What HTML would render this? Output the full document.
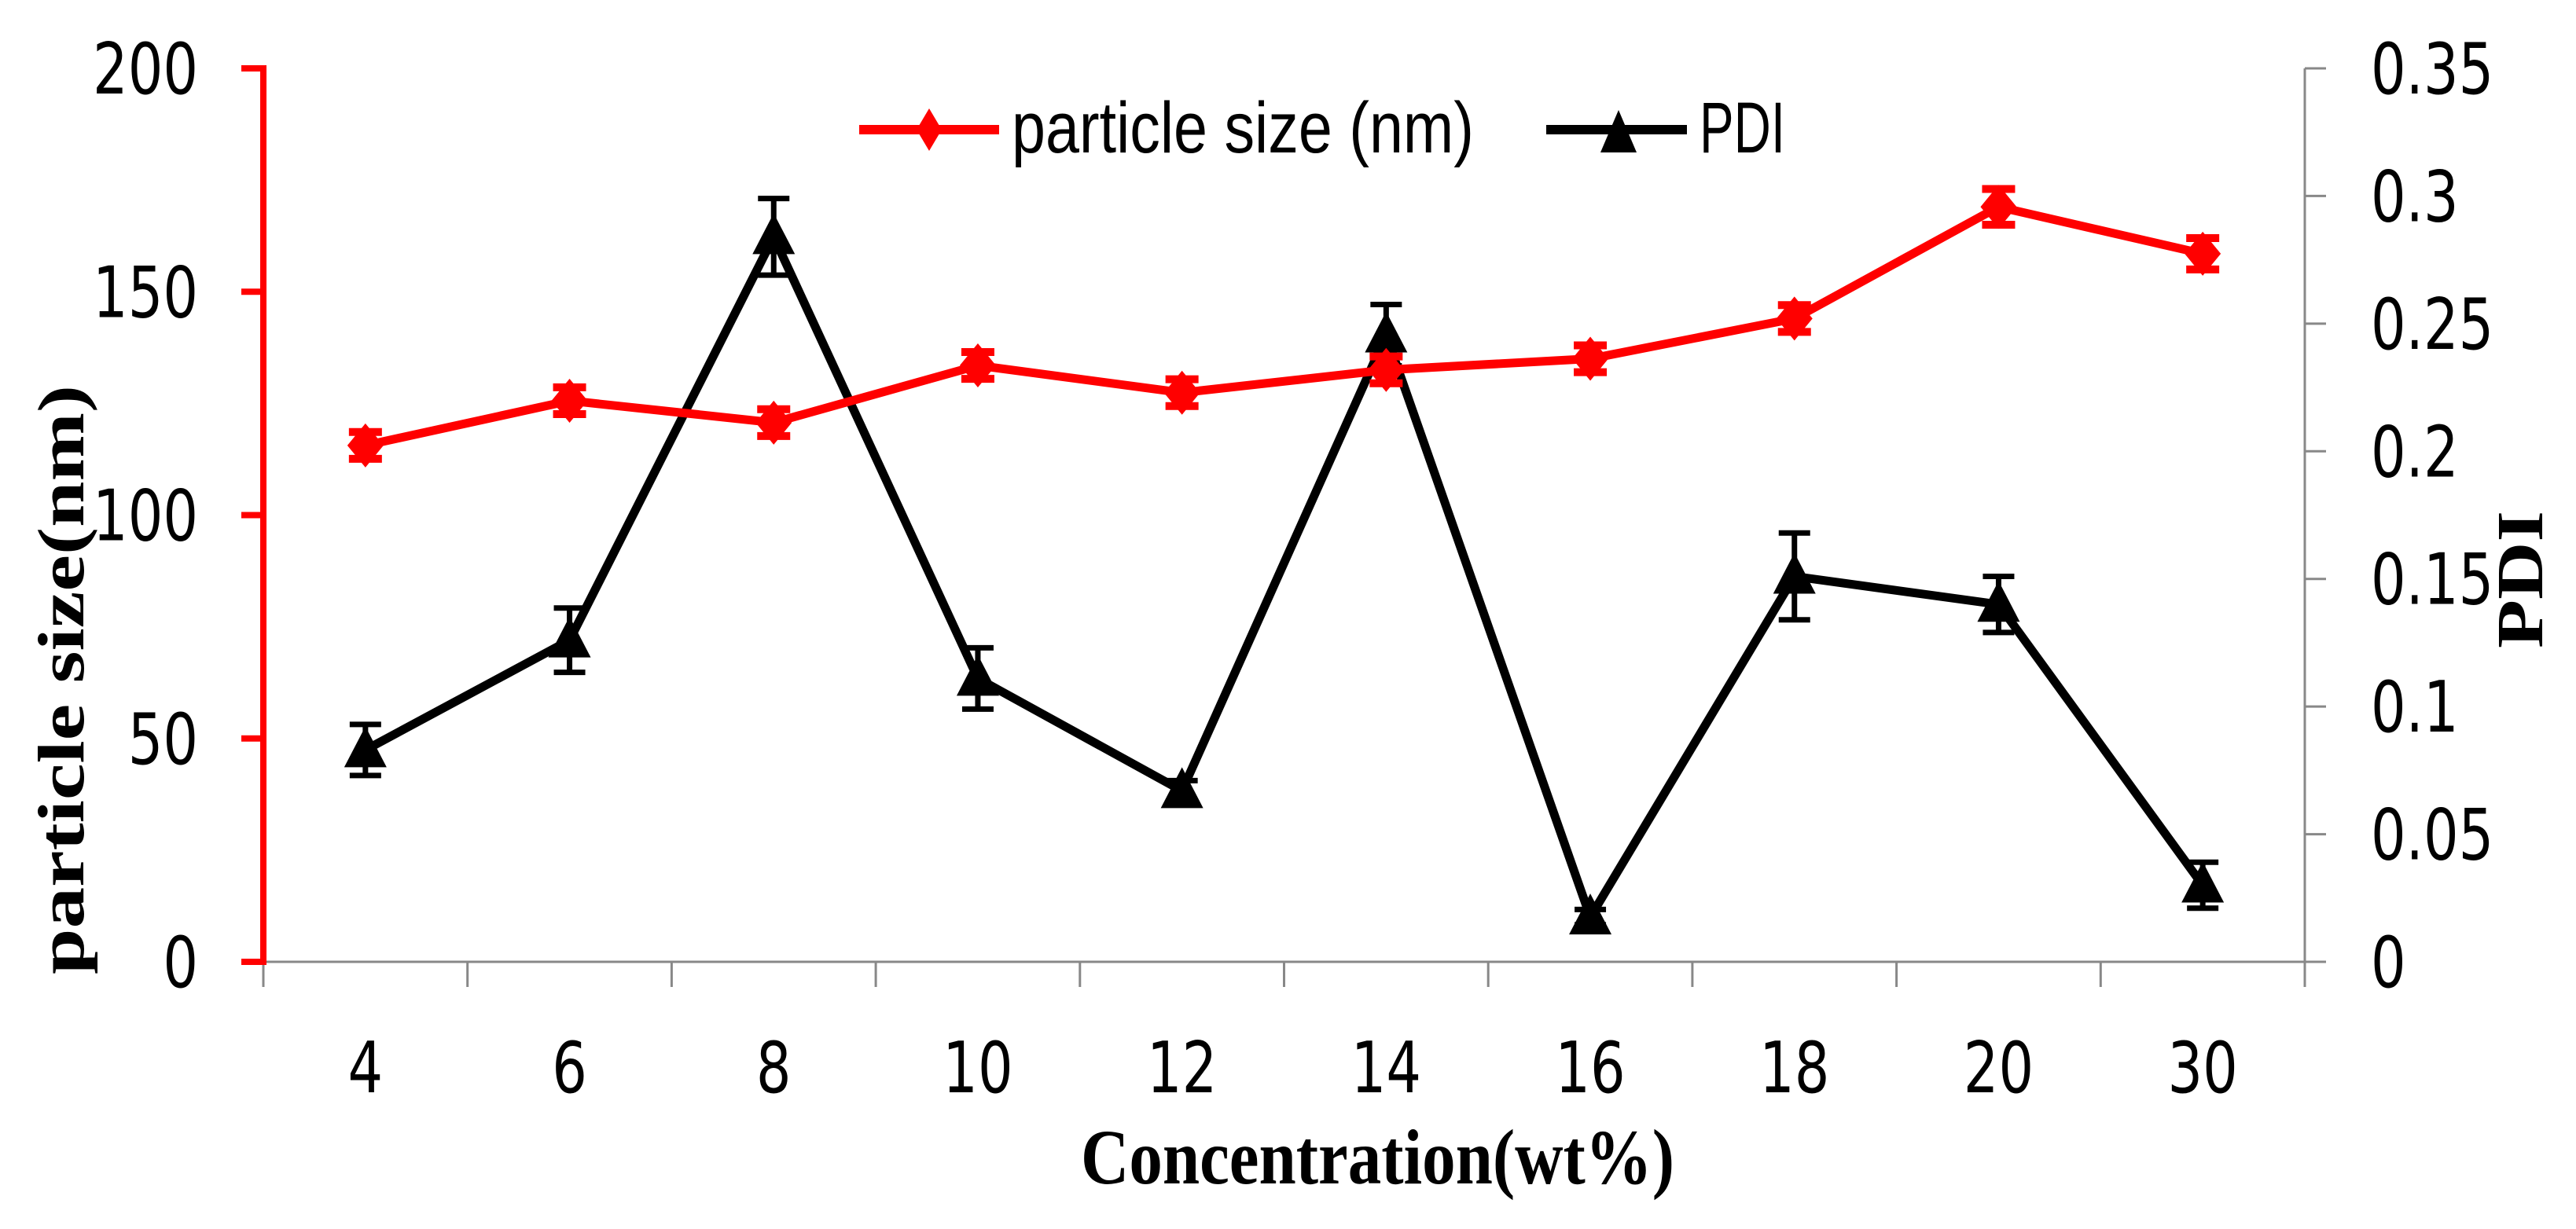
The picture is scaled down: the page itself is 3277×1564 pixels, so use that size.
<!DOCTYPE html>
<html><head><meta charset="utf-8"><style>
html,body{margin:0;padding:0;background:#fff;}
svg{display:block;}
</style></head><body>
<svg id="chart" width="3277" height="1564" viewBox="0 0 3277 1564" xmlns="http://www.w3.org/2000/svg">
<g id="axes"></g>
<g id="marks"></g>
<g id="legend">
  <line x1="1093" y1="165" x2="1271" y2="165" stroke="#ff0000" stroke-width="12"/>
  <polygon points="1182,138 1198,165 1182,192 1166,165" fill="#ff0000"/>
  <text x="1287" y="194" font-family="Liberation Sans, sans-serif" font-size="92" textLength="588" lengthAdjust="spacingAndGlyphs">particle size (nm)</text>
  <line x1="1967" y1="165" x2="2146" y2="165" stroke="#000" stroke-width="12"/>
  <polygon points="2059,140 2082,194 2036,194" fill="#000"/>
  <text x="2162" y="194" font-family="Liberation Sans, sans-serif" font-size="92" textLength="109" lengthAdjust="spacingAndGlyphs">PDI</text>
</g>
<text x="1375" y="1506" font-family="Liberation Serif, serif" font-weight="bold" font-size="100" textLength="755" lengthAdjust="spacingAndGlyphs">Concentration(wt%)</text>
<text transform="translate(106,1240) rotate(-90)" x="0" y="0" font-family="Liberation Serif, serif" font-weight="bold" font-size="84" textLength="750" lengthAdjust="spacingAndGlyphs">particle size(nm)</text>
<text transform="translate(3234,825) rotate(-90)" x="0" y="0" font-family="Liberation Serif, serif" font-weight="bold" font-size="84" textLength="175" lengthAdjust="spacingAndGlyphs">PDI</text>
</svg>
<script>
const categories = ['4','6','8','10','12','14','16','18','20','30'];
const sizeValues = [115.6,125.6,120.7,133.5,127.4,132.5,135,144,169,158.5];
const sizeErrors = [3,3,3,3,3,3,3,3,4,3.5];
const pdiValues = [0.083,0.126,0.284,0.111,0.067,0.2455,0.0175,0.151,0.140,0.030];
const pdiErrors = [0.010,0.0126,0.015,0.012,0.004,0.012,0.003,0.017,0.011,0.009];
const leftTicks = [0,50,100,150,200];
const rightTicks = ['0','0.05','0.1','0.15','0.2','0.25','0.3','0.35'];

const X0=335, X1=2932, Y0=1224, Y1=87;
const NS='http://www.w3.org/2000/svg';
function xPos(i){ return X0 + (X1-X0)/categories.length*(i+0.5); }
function yLeft(v){ return Y0 - (v/200)*(Y0-Y1); }
function yRight(v){ return Y0 - (v/0.35)*(Y0-Y1); }
function mk(tag, attrs, parent){ const e=document.createElementNS(NS,tag); for(const k in attrs) e.setAttribute(k,attrs[k]); parent.appendChild(e); return e; }
const axes=document.getElementById('axes');
const marks=document.getElementById('marks');

let el=mk('line',{x1:X0,y1:Y0,x2:X1,y2:Y0,stroke:'#888','stroke-width':3},axes);


for(let i=0;i<=categories.length;i++){
  const x=X0+(X1-X0)/categories.length*i;
  el=mk('line',{x1:x,y1:Y0,x2:x,y2:Y0+32,stroke:'#888','stroke-width':3},axes);
  
  
}
categories.forEach((c,i)=>{
  const t=mk('text',{transform:`translate(${xPos(i)},1390) scale(0.78,1)`,'text-anchor':'middle','font-family':'DejaVu Sans, sans-serif','font-size':90,fill:'#000'},axes);
  t.textContent=c;
  
  
});
el=mk('line',{x1:X0,y1:Y1-4,x2:X0,y2:Y0+4,stroke:'#ff0000','stroke-width':8},axes);


leftTicks.forEach(v=>{
  const y=yLeft(v);
  el=mk('line',{x1:307,y1:y,x2:X0,y2:y,stroke:'#ff0000','stroke-width':8},axes);
  
  
  const t=mk('text',{transform:`translate(252,${y+32}) scale(0.78,1)`,'text-anchor':'end','font-family':'DejaVu Sans, sans-serif','font-size':90,fill:'#000'},axes);
  t.textContent=String(v);
  
  
});
el=mk('line',{x1:X1,y1:Y1,x2:X1,y2:Y0+32,stroke:'#888','stroke-width':3},axes);


rightTicks.forEach(s=>{
  const y=yRight(parseFloat(s));
  el=mk('line',{x1:X1,y1:y,x2:2959,y2:y,stroke:'#888','stroke-width':3},axes);
  
  
  const t=mk('text',{transform:`translate(3016,${y+32}) scale(0.78,1)`,'font-family':'DejaVu Sans, sans-serif','font-size':90,fill:'#000'},axes);
  t.textContent=s;
  
  
});

el=mk('polyline',{points:pdiValues.map((v,i)=>xPos(i)+','+yRight(v)).join(' '),fill:'none',stroke:'#000','stroke-width':11,'stroke-linejoin':'miter'},marks);


pdiValues.forEach((v,i)=>{
  const x=xPos(i), y=yRight(v), e=pdiErrors[i];
  const yt=yRight(v+e), yb=yRight(v-e);
  const g=mk('g',{},marks);
  
  
  mk('path',{d:`M${x},${yt}V${yb}M${x-20},${yt}H${x+20}M${x-20},${yb}H${x+20}`,stroke:'#000','stroke-width':7,fill:'none'},g);
  const p=mk('polygon',{points:`${x},${y-30} ${x+27},${y+22} ${x-27},${y+22}`,fill:'#000'},marks);
  
  
});
el=mk('polyline',{points:sizeValues.map((v,i)=>xPos(i)+','+yLeft(v)).join(' '),fill:'none',stroke:'#ff0000','stroke-width':11},marks);


sizeValues.forEach((v,i)=>{
  const x=xPos(i), y=yLeft(v), e=sizeErrors[i];
  const yt=yLeft(v+e), yb=yLeft(v-e);
  const g=mk('g',{},marks);
  
  
  mk('path',{d:`M${x},${yt}V${yb}M${x-21},${yt}H${x+21}M${x-21},${yb}H${x+21}`,stroke:'#ff0000','stroke-width':10,fill:'none'},g);
  const p=mk('polygon',{points:`${x},${y-28} ${x+23},${y} ${x},${y+28} ${x-23},${y}`,fill:'#ff0000'},marks);
  
  
});
</script>
</body></html>
